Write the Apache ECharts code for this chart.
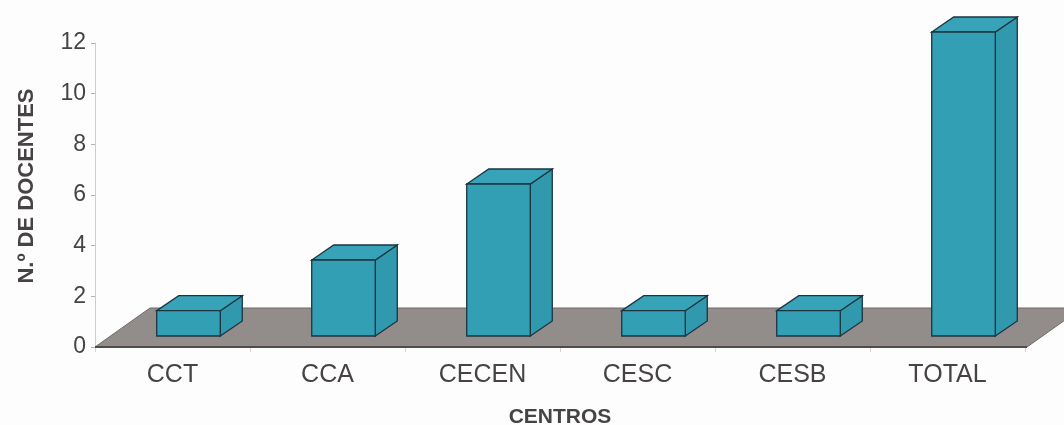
<!DOCTYPE html>
<html>
<head>
<meta charset="utf-8">
<script src="https://cdn.jsdelivr.net/npm/echarts@6/dist/echarts.min.js"></script>
<style>html,body{margin:0;padding:0;background:#fdfdfd;}#c{width:1064px;height:425px;}</style>
</head>
<body>
<div id="c"></div>
<script>
const categories = ['CCT', 'CCA', 'CECEN', 'CESC', 'CESB', 'TOTAL'];
const docentes = [1, 3, 6, 1, 1, 12];
const yTicks = [0, 2, 4, 6, 8, 10, 12];

const FLOOR_DX = 55, FLOOR_DY = -39;   // floor depth
const BAR_OX = 16, BAR_OY = -11;       // bar front-face offset into the floor
const BAR_DX = 22, BAR_DY = -15;       // bar depth
const BAR_W = 0.41;                    // fraction of category band

const chart = echarts.init(document.getElementById('c'), null, {renderer: 'canvas'});
chart.setOption({
  backgroundColor: '#fdfdfd',
  animation: false,
  grid: {left: 95, right: 39, top: 43, bottom: 78, containLabel: false, outerBoundsMode: 'none'},
  xAxis: {
    type: 'category',
    data: categories,
    name: 'CENTROS',
    nameLocation: 'middle',
    nameGap: 60,
    nameTextStyle: {fontFamily: 'Liberation Sans', fontWeight: 'bold', fontSize: 21, color: '#474343'},
    axisLine: {show: false},
    axisTick: {show: true, length: 5, lineStyle: {color: '#d8d4d4'}},
    axisLabel: {fontFamily: 'Liberation Sans', fontSize: 25, color: '#474343', margin: 16}
  },
  yAxis: {
    type: 'value',
    min: 0, max: 12, interval: 2,
    name: 'N.º DE DOCENTES',
    nameLocation: 'middle',
    nameGap: 57,
    nameRotate: 90,
    nameTextStyle: {fontFamily: 'Liberation Sans', fontWeight: 'bold', fontSize: 22, color: '#474343', padding: [0, 0, 0, 18]},
    axisLine: {show: true, lineStyle: {color: '#d9c8cc', width: 1}},
    axisTick: {show: true, length: 4, lineStyle: {color: '#b8b0b0'}},
    splitLine: {show: false},
    axisLabel: {fontFamily: 'Liberation Sans', fontSize: 23, color: '#474343', margin: 9,
      formatter: v => yTicks.includes(v) ? String(v) : ''}
  },
  series: [
    {
      type: 'custom',
      z: 1,
      data: [[0, 0]],
      renderItem: function (params, api) {
        const cs = params.coordSys;
        const x0 = cs.x, x1 = cs.x + cs.width, y = cs.y + cs.height;
        return {
          type: 'group',
          children: [
            {type: 'polygon', shape: {points: [[x0, y], [x1 + 2, y], [x1 + 2 + FLOOR_DX, y + FLOOR_DY], [x0 + FLOOR_DX, y + FLOOR_DY]]},
             style: {fill: '#928d8a', stroke: '#6e6a67', lineWidth: 1}},
            {type: 'line', shape: {x1: x0, y1: y, x2: x1 + 2, y2: y}, style: {stroke: '#4f4b49', lineWidth: 2}}
          ]
        };
      }
    },
    {
      type: 'custom',
      z: 2,
      data: docentes.map((v, i) => [i, v]),
      renderItem: function (params, api) {
        const cat = api.value(0), val = api.value(1);
        const base = api.coord([cat, 0]);
        const top = api.coord([cat, val]);
        const band = api.size([1, 0])[0];
        const w = band * BAR_W;
        const l = base[0] - w / 2 + BAR_OX, r = l + w;
        const b = base[1] + BAR_OY, t = top[1] + BAR_OY;
        const stroke = '#1d3440';
        return {
          type: 'group',
          children: [
            {type: 'polygon', shape: {points: [[r, b], [r + BAR_DX, b + BAR_DY], [r + BAR_DX, t + BAR_DY], [r, t]]},
             style: {fill: '#3099ad', stroke: stroke, lineWidth: 1.3}},
            {type: 'polygon', shape: {points: [[l, t], [r, t], [r + BAR_DX, t + BAR_DY], [l + BAR_DX, t + BAR_DY]]},
             style: {fill: '#36a3b8', stroke: stroke, lineWidth: 1.3}},
            {type: 'rect', shape: {x: l, y: t, width: w, height: b - t},
             style: {fill: '#339fb4', stroke: stroke, lineWidth: 1.3}}
          ]
        };
      }
    }
  ]
});
</script>
</body>
</html>
